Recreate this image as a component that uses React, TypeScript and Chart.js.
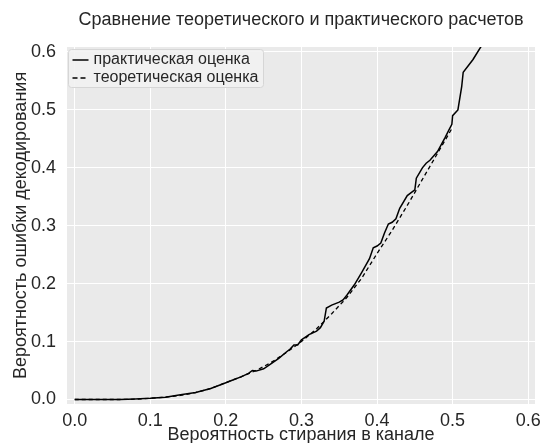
import React, { useEffect, useRef } from "react";
import { Chart, registerables } from "chart.js";

Chart.register(...registerables);

const chartTitle = "Сравнение теоретического и практического расчетов";
const xAxisLabel = "Вероятность стирания в канале";
const yAxisLabel = "Вероятность ошибки декодирования";
const seriesNames = ["практическая оценка", "теоретическая оценка"];

const tickValues = [0, 0.1, 0.2, 0.3, 0.4, 0.5, 0.6];

const practicalX = [
  0, 0.02, 0.04, 0.06, 0.08, 0.1, 0.12, 0.14, 0.16, 0.18, 0.2, 0.21, 0.22, 0.23, 0.235, 0.24,
  0.25, 0.26, 0.27, 0.28, 0.285, 0.29, 0.295, 0.3, 0.31, 0.32, 0.325, 0.33, 0.333, 0.34, 0.35,
  0.355, 0.36, 0.37, 0.38, 0.39, 0.395, 0.4, 0.405, 0.41, 0.415, 0.42, 0.425, 0.43, 0.44, 0.45,
  0.452, 0.46, 0.465, 0.47, 0.48, 0.49, 0.495, 0.499, 0.5, 0.507, 0.512, 0.514, 0.527, 0.545,
];
const practicalY = [
  0, 0, 0, 0, 0.001, 0.002, 0.004, 0.008, 0.012, 0.019, 0.029, 0.034, 0.039, 0.045, 0.05, 0.049,
  0.053, 0.062, 0.071, 0.082, 0.087, 0.094, 0.094, 0.103, 0.112, 0.118, 0.124, 0.135, 0.158, 0.163,
  0.168, 0.172, 0.18, 0.198, 0.22, 0.243, 0.262, 0.265, 0.27, 0.288, 0.303, 0.306, 0.312, 0.33,
  0.352, 0.362, 0.382, 0.4, 0.408, 0.413, 0.428, 0.452, 0.465, 0.475, 0.49, 0.5, 0.54, 0.565, 0.587,
  0.625,
];

const theoryX = [
  0, 0.02, 0.04, 0.06, 0.08, 0.1, 0.12, 0.14, 0.16, 0.18, 0.2, 0.22, 0.24, 0.26, 0.28, 0.3, 0.32,
  0.34, 0.36, 0.38, 0.4, 0.42, 0.44, 0.46, 0.48, 0.5,
];
const theoryY = [
  0, 0, 0, 0, 0.0005, 0.002, 0.004, 0.007, 0.012, 0.019, 0.029, 0.039, 0.05, 0.064, 0.081, 0.1,
  0.122, 0.148, 0.176, 0.21, 0.252, 0.292, 0.335, 0.38, 0.425, 0.47,
];

const FONT = "'Liberation Sans', Arial, sans-serif";

const decorPlugin = {
  id: "decor",
  beforeDraw(chart: any) {
    const { ctx, chartArea } = chart;
    ctx.save();
    ctx.fillStyle = "#EAEAEA";
    ctx.fillRect(chartArea.left, chartArea.top, chartArea.right - chartArea.left, chartArea.bottom - chartArea.top);
    ctx.restore();
  },
  afterDraw(chart: any) {
    const { ctx, chartArea } = chart;
    ctx.save();
    // title
    ctx.fillStyle = "#262626";
    ctx.font = `18px ${FONT}`;
    ctx.textAlign = "center";
    ctx.textBaseline = "middle";
    ctx.fillText(chartTitle, (chartArea.left + chartArea.right) / 2, 20);

    // legend
    const bx = chartArea.left + 1.5;
    const by = chartArea.top + 2.5;
    const bw = 195;
    const bh = 38;
    ctx.beginPath();
    ctx.roundRect(bx, by, bw, bh, 3);
    ctx.fillStyle = "rgba(242,242,242,0.9)";
    ctx.fill();
    ctx.strokeStyle = "#D6D6D6";
    ctx.lineWidth = 1;
    ctx.stroke();

    const rows = [chartArea.top + 13, chartArea.top + 31];
    ctx.font = `16px ${FONT}`;
    ctx.textAlign = "left";
    ctx.textBaseline = "middle";
    rows.forEach((ry, i) => {
      ctx.beginPath();
      ctx.strokeStyle = "#000";
      ctx.lineWidth = 1.5;
      ctx.setLineDash(i === 0 ? [] : [5, 3]);
      ctx.moveTo(bx + 4, ry);
      ctx.lineTo(bx + 20, ry);
      ctx.stroke();
      ctx.setLineDash([]);
      ctx.fillStyle = "#262626";
      ctx.fillText(seriesNames[i], bx + 25, ry);
    });
    ctx.restore();
  },
};

export default function App() {
  const ref = useRef<HTMLCanvasElement | null>(null);

  useEffect(() => {
    if (!ref.current) return;
    const practical = practicalX.map((x, i) => ({ x, y: practicalY[i] }));
    const theory = theoryX.map((x, i) => ({ x, y: theoryY[i] }));
    const chart = new Chart(ref.current, {
      type: "line",
      data: {
        datasets: [
          {
            label: seriesNames[0],
            data: practical,
            borderColor: "#000",
            borderWidth: 1.5,
            pointRadius: 0,
            tension: 0,
            fill: false,
          },
          {
            label: seriesNames[1],
            data: theory,
            borderColor: "#000",
            borderWidth: 1.3,
            borderDash: [4, 3],
            pointRadius: 0,
            tension: 0,
            fill: false,
          },
        ],
      },
      options: {
        animation: false,
        responsive: true,
        maintainAspectRatio: false,
        layout: { padding: { top: 47, right: 5, left: 0, bottom: 0 } },
        plugins: {
          legend: { display: false },
          title: { display: false },
          tooltip: { enabled: false },
        },
        scales: {
          x: {
            type: "linear",
            min: -0.0102,
            max: 0.609,
            afterBuildTicks: (scale: any) => {
              scale.ticks = tickValues.map((v) => ({ value: v }));
            },
            afterFit: (scale: any) => {
              scale.height = 39;
              scale.paddingLeft = 0;
              scale.paddingRight = 0;
            },
            ticks: {
              padding: 6,
              color: "#262626",
              font: { family: FONT, size: 18 },
              maxRotation: 0,
              callback: (v: any) => Number(v).toFixed(1),
            },
            grid: { color: "#FFFFFF", lineWidth: 1, drawTicks: false },
            border: { display: false },
            title: {
              display: true,
              text: xAxisLabel,
              color: "#262626",
              font: { family: FONT, size: 18 },
              padding: { top: 0, bottom: -3 },
            },
          },
          y: {
            type: "linear",
            min: -0.0078,
            max: 0.6086,
            afterBuildTicks: (scale: any) => {
              scale.ticks = tickValues.map((v) => ({ value: v }));
            },
            afterFit: (scale: any) => {
              scale.width = 67;
              scale.paddingTop = 0;
              scale.paddingBottom = 0;
            },
            ticks: {
              padding: 11,
              color: "#262626",
              font: { family: FONT, size: 18 },
              callback: (v: any) => Number(v).toFixed(1),
            },
            grid: { color: "#FFFFFF", lineWidth: 1, drawTicks: false },
            border: { display: false },
            title: {
              display: true,
              text: yAxisLabel,
              color: "#262626",
              font: { family: FONT, size: 18 },
              padding: { top: 10, bottom: 0 },
            },
          },
        },
      },
      plugins: [decorPlugin],
    });
    return () => chart.destroy();
  }, []);

  return (
    <div style={{ position: "fixed", left: 0, top: 0, width: 540, height: 443 }}>
      <canvas ref={ref} />
    </div>
  );
}
